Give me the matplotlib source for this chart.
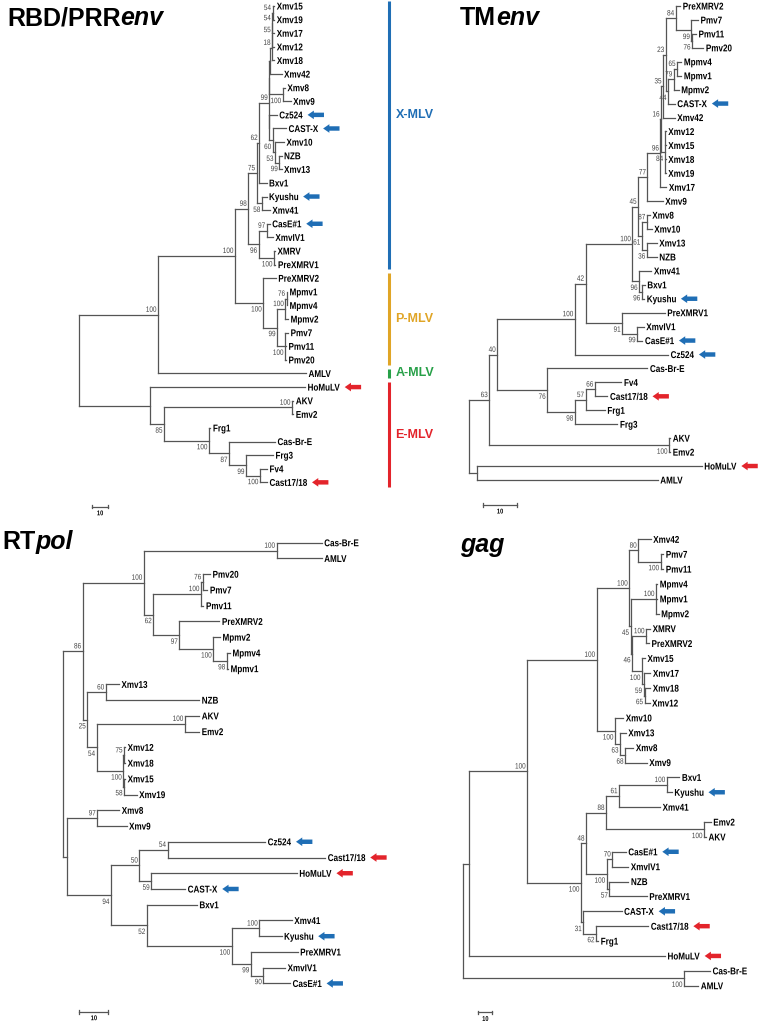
import re
import matplotlib
matplotlib.use('Agg')
import matplotlib.pyplot as plt
from matplotlib.textpath import TextPath
from matplotlib.font_manager import FontProperties
from matplotlib.patches import PathPatch
from matplotlib.transforms import Affine2D, ScaledTranslation, offset_copy

# Trees as Newick pieces: branch lengths in units of the "10" scale bar, bootstrap after ")"
# RBD/PRR env
rbd_xcluster = "((((Xmv15:1.0,Xmv19:1.0)54:0.1,Xmv17:1.1)54:0.1,Xmv12:1.25)55:0.1,Xmv18:1.4)18:1.4"
rbd_p = "((" + rbd_xcluster + ",Xmv42:7.3):0.3,(Xmv8:1.4,Xmv9:5.0)100:8.3):0.1"
rbd_q = "(Cz524:4.6,(CAST-X:8.3,(Xmv10:5.6,(NZB:1.4,Xmv13:1.4)99:2.7)53:1.4)60:2.1):0.1"
rbd_62 = "((" + rbd_p + "," + rbd_q + ")99:6.3,Bxv1:4.6)62:1.6"
rbd_75 = "(" + rbd_62 + ",(Kyushu:2.9,Xmv41:5.0)58:3.3)75:5.2"
rbd_96 = "((CasE#1:1.9,XmvIV1:3.9)97:5.0,(XMRV:0.6,PreXMRV1:0.9)100:9.6)96:6.5"
rbd_pmlv = ("(PreXMRV2:7.8,(((Mpmv1:0.3,Mpmv4:0.3)76:0.75,Mpmv2:1.7)100:5.2,"
            "(Pmv7:1.9,Pmv11:0.6,Pmv20:0.6)100:5.0)99:8.6)100:17.7")
rbd_a = "(((" + rbd_75 + "," + rbd_96 + ")98:8.3," + rbd_pmlv + ")100:48.1,AMLV:92.5)100:49.4"
rbd_e = ("(HoMuLV:96.9,((AKV:0.8,Emv2:0.8)100:80,(Frg1:0.9,(Cas-Br-E:28.75,"
         "(Frg3:16.9,(Fv4:4.4,Cast17/18:4.4)100:8.75)99:10.6)87:12.5)100:28.1)85:8.75):44.4")
rbd_tree = "(" + rbd_a + "," + rbd_e + ");"

# TM env
tm_84 = "(PreXMRV2:1.35,(Pmv7:2.0,(Pmv11:1.2,Pmv20:3.4)76:0.2)99:4.7)84:3.0"
tm_44 = "(((Mpmv4:1.3,Mpmv1:1.3)65:1.0,Mpmv2:1.5)79:1.7,CAST-X:2.0)44:0.7"
tm_35 = "((" + tm_84 + "," + tm_44 + ")23:0.8,Xmv42:3.5)35:0.6"
tm_16 = "(" + tm_35 + ",(Xmv12:0.3,Xmv15:0.3,Xmv18:0.3,Xmv19:0.3)84:1.1)16:0.2"
tm_77 = "((" + tm_16 + ",Xmv17:1.8)96:3.9,Xmv9:4.6)77:2.8"
tm_61 = "((Xmv8:0.9,Xmv10:1.5)87:1.5,(Xmv13:3.0,NZB:3.0)36:1.5)61:1.1"
tm_96 = "(Xmv41:3.7,(Bxv1:0.9,Kyushu:0.75)96:0.8)96:2.0"
tm_91 = "(PreXMRV1:12.8,(XmvIV1:2.0,CasE#1:1.6)99:4.5)91:11.0"
tm_100 = "((((" + tm_77 + "," + tm_61 + ")45:1.7," + tm_96 + ")100:14.1," + tm_91 + ")42:3.2,Cz524:28.0)100:23.3"
tm_76 = "(Cas-Br-E:30.1,(((Fv4:8.0,Cast17/18:3.8)66:2.8,Frg1:5.8)57:3.2,Frg3:12.8)98:8.3)76:15.0"
tm_63 = "((" + tm_100 + "," + tm_76 + ")40:2.4,(AKV:0.35,Emv2:0.35)100:54.0)63:6.0"
tm_tree = "(" + tm_63 + ",(HoMuLV:67.4,AMLV:54.2):2.4);"

# RT pol
rt_top = ("((Cas-Br-E:15.4,AMLV:15.4)100:45.3,(((Pmv20:2.5,Pmv7:1.6)76:0.6,Pmv11:0.85)100:16.3,"
          "(PreXMRV2:13.7,(Mpmv2:2.3,(Mpmv4:1.1,Mpmv1:0.45)98:4.6)100:11.6)97:8.9)62:3.2)100:20.9")
rt_25 = ("((Xmv13:4.5,NZB:31.9)60:6.3,((AKV:4.9,Emv2:4.9)100:30.1,((Xmv12:0.35,Xmv18:0.35)75:0.25,"
         "(Xmv15:0.35,Xmv19:4.3)58:0.25)100:9.1)54:3.2)25:1.6")
rt_50 = "((Cz524:33.3,Cast17/18:53.8)54:9.6,(HoMuLV:49.7,CAST-X:11.6)59:4.0)50:9.7"
rt_52 = ("(Bxv1:17.1,((Xmv41:11.1,Kyushu:7.6)100:9.4,"
         "(PreXMRV1:16.0,(XmvIV1:7.4,CasE#1:9.1)90:4.3)99:6.5)100:29.0)52:12.2")
rt_low = "((Xmv8:7.5,Xmv9:10.0)97:10.4,(" + rt_50 + "," + rt_52 + ")94:15.1):1.4"
rt_tree = "((" + rt_top + "," + rt_25 + ")86:6.8," + rt_low + ");"

# gag
gag_80 = "(Xmv42:8.9,(Pmv7:1.9,Pmv11:1.9)100:16.0)80:6.4"
gag_46 = ("((XMRV:2.9,PreXMRV2:2.1)100:10.0,"
          "(Xmv15:2.1,(Xmv17:4.9,(Xmv18:4.1,Xmv12:3.6)65:0.7)59:1.1)100:7.1)46:1.1")
gag_45 = "((Mpmv4:0.9,Mpmv1:0.9,Mpmv2:1.9)100:18.2," + gag_46 + ")45:0.9"
gag_w = "(Xmv10:5.9,(Xmv13:4.1,(Xmv8:5.9,Xmv9:15.5)68:3.6)63:3.6)100:13.1"
gag_u = "((" + gag_80 + "," + gag_45 + ")100:23.3," + gag_w + ")100:49.6"
gag_88 = "(((Bxv1:9.0,Kyushu:3.6)100:34.1,Xmv41:29.3)61:9.3,(Emv2:4.8,AKV:1.4)100:70.0)88:14.3"
gag_c = "((CasE#1:9.6,XmvIV1:11.4)70:4.0,(NZB:13.6,PreXMRV1:26.7)57:1.9)100:14.8"
gag_31 = "(CAST-X:27.4,(Cast17/18:37.4,Frg1:1.6)62:9.1)31:1.6"
gag_l = "((" + gag_88 + "," + gag_c + ")48:3.6," + gag_31 + ")100:38.4"
gag_tree = "(((" + gag_u + "," + gag_l + ")100:41.4,HoMuLV:139.8):4.7,(Cas-Br-E:18.6,AMLV:10.2)100:158.1);"

blue_marked = ['Cz524', 'CAST-X', 'Kyushu', 'CasE#1']
red_marked = ['HoMuLV', 'Cast17/18']

clade_names = ['X-MLV', 'P-MLV', 'A-MLV', 'E-MLV']
clade_first = ['Xmv15', 'PreXMRV2', 'AMLV', 'HoMuLV']
clade_last = ['PreXMRV1', 'Pmv20', 'AMLV', 'Cast17/18']
clade_colors = ['#1f6eb5', '#e0a526', '#27a048', '#e3242b']

BLUE = '#1f6eb5'
RED = '#e3242b'
LINE = '#555555'
FONT = 'Liberation Sans'
LEAF_FS = 7.1
BOOT_FS = 5.6
SQUEEZE = 0.82   # the tree labels are a narrow face

W, H = 760, 1023
fig = plt.figure(figsize=(W / 100, H / 100), dpi=100)


def ctext(ax, x, y, s, size, weight='bold', color='black', dx=0.0, dy=0.0, ha='left', va='center'):
    # narrow text drawn as a path, anchored at data point (x, y), offsets in points
    tp = TextPath((0, 0), s, size=size, prop=FontProperties(family=FONT, weight=weight))
    w = tp.get_extents().x1 * SQUEEZE
    cap = 0.716 * size
    ox = {'left': 0, 'right': -w, 'center': -w / 2}[ha]
    oy = {'center': -cap / 2, 'bottom': 0, 'top': -cap}[va]
    tr = (Affine2D().scale(SQUEEZE, 1).translate(ox + dx, oy + dy).scale(fig.dpi / 72)
          + ScaledTranslation(x, y, ax.transData))
    ax.add_patch(PathPatch(tp, transform=tr, lw=0, fc=color, clip_on=False))
    return w


def parse(s):
    tokens = re.findall(r'\(|\)|,|;|:[0-9.]+|[^(),:;]+', s)
    pos = [0]

    def node():
        n = {'name': '', 'length': 0.0, 'children': []}
        if tokens[pos[0]] == '(':
            pos[0] += 1
            while True:
                n['children'].append(node())
                t = tokens[pos[0]]
                pos[0] += 1
                if t == ')':
                    break
        t = tokens[pos[0]]
        if t not in '(),;' and not t.startswith(':'):
            n['name'] = t
            pos[0] += 1
        if tokens[pos[0]].startswith(':'):
            n['length'] = float(tokens[pos[0]][1:])
            pos[0] += 1
        return n

    return node()


def layout(n, x0, row):
    n['x'] = x0 + n['length']
    if n['children']:
        for c in n['children']:
            layout(c, n['x'], row)
        n['y'] = (n['children'][0]['y'] + n['children'][-1]['y']) / 2
    else:
        n['y'] = row[0]
        row[0] += 1


def draw(ax, n, leaves):
    kids = n['children']
    if not kids:
        w = ctext(ax, n['x'], n['y'], n['name'], LEAF_FS, dx=1.8)
        leaves[n['name']] = (n['x'], n['y'], w)
        return
    ax.plot([n['x'], n['x']], [kids[0]['y'], kids[-1]['y']], color=LINE, lw=0.9)
    for i, c in enumerate(kids):
        ax.plot([n['x'], c['x']], [c['y'], c['y']], color=LINE, lw=0.9)
        if c['children'] and c['name']:
            if i == 0:
                dy, va = 2.0, 'bottom'
            else:
                dy, va = -2.2, 'top'
            ctext(ax, c['x'], c['y'], c['name'], BOOT_FS, weight='normal', color='#444444',
                  dx=-1.3, dy=dy, ha='right', va=va)
        draw(ax, c, leaves)


# panel placement in pixels: root x, px per unit, first row y, row spacing, scale-bar start
panels = [
    dict(tree=rbd_tree, root=79, ppu=1.6, y0=6, sp=13.61, bar_x=8.1),
    dict(tree=tm_tree, root=469.3, ppu=3.33, y0=6, sp=13.94, bar_x=4.2),
    dict(tree=rt_tree, root=62.7, ppu=2.93, y0=542.7, sp=15.74, bar_x=5.6),
    dict(tree=gag_tree, root=462.7, ppu=1.4, y0=539.3, sp=14.88, bar_x=11.1),
]

for p in panels:
    ax = fig.add_axes([0, 0, 1, 1])
    ax.set_xlim(-p['root'] / p['ppu'], (W - p['root']) / p['ppu'])
    ax.set_ylim((H - p['y0']) / p['sp'], -p['y0'] / p['sp'])
    ax.axis('off')
    root = parse(p['tree'])
    row = [0]
    layout(root, 0.0, row)
    leaves = {}
    draw(ax, root, leaves)
    for name, (lx, ly, w) in leaves.items():
        col = BLUE if name in blue_marked else RED if name in red_marked else None
        if col:
            head = offset_copy(ax.transData, fig=fig, x=1.8 + w + 3.6, y=0, units='points')
            ax.annotate('', xy=(lx, ly), xycoords=head, xytext=(11.8, 0), textcoords='offset points',
                        arrowprops=dict(arrowstyle='simple,head_length=0.45,head_width=0.62,tail_width=0.32',
                                        mutation_scale=10, color=col, shrinkA=0, shrinkB=0, lw=0))
    # scale bar
    by = row[0] - 1 + 1.8
    bx = p['bar_x']
    ax.plot([bx, bx + 10], [by, by], color=LINE, lw=0.9)
    for xx in (bx, bx + 10):
        ax.plot([xx, xx], [by - 0.12, by + 0.12], color=LINE, lw=0.9)
    ctext(ax, bx + 5, by, '10', 5.0, dy=-2.5, ha='center', va='top')
    p['ax'] = ax
    p['rows'] = {k: v[1] for k, v in leaves.items()}

# clade bars beside RBD/PRR env tree
ax0 = panels[0]['ax']
rows0 = panels[0]['rows']
bar_x = (389 - panels[0]['root']) / panels[0]['ppu']
lab_x = (395.5 - panels[0]['root']) / panels[0]['ppu']
label_at = {'X-MLV': 'Cz524'}
for nm, a, b, col in zip(clade_names, clade_first, clade_last, clade_colors):
    y1, y2 = rows0[a] - 0.35, rows0[b] + 0.35
    ax0.plot([bar_x, bar_x], [y1, y2], color=col, lw=2.2, solid_capstyle='butt')
    ly = rows0[label_at[nm]] if nm in label_at else (y1 + y2) / 2
    ax0.text(lab_x, ly, nm, color=col, fontsize=9.0, fontweight='bold', va='center', ha='left',
             family=FONT)


def title(x, y, plain, ital):
    kw = dict(fontsize=18, fontweight='bold', family=FONT)
    if plain:
        t = fig.text(x / W, 1 - y / H, plain, ha='left', va='center', **kw)
        ax0.annotate(ital, xy=(1, 0), xycoords=t, ha='left', va='bottom', fontstyle='italic', **kw)
    else:
        fig.text(x / W, 1 - y / H, ital, ha='left', va='center', fontstyle='italic', **kw)


title(7, 18, 'RBD/PRR', 'env')
title(460, 18, 'TM', 'env')
title(2, 542, 'RT', 'pol')
title(460, 545, '', 'gag')

fig.savefig('out.png', dpi=100)
